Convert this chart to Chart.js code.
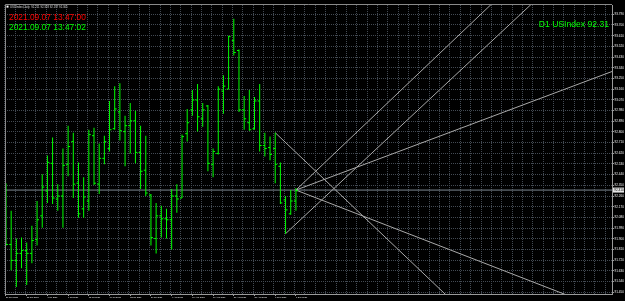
<!DOCTYPE html>
<html><head><meta charset="utf-8">
<script src="https://cdn.jsdelivr.net/npm/chart.js@4/dist/chart.umd.min.js"></script>
<style>html,body{margin:0;padding:0;background:#000;overflow:hidden}canvas{display:block}</style>
</head><body>
<canvas id="c" width="625" height="301"></canvas>
<script>
// ---- data (daily bars, 21 Jun 2021 .. 7 Sep 2021) ----
const barIndex = [0,1,2,3,4,5,6,7,8,9,10,11,12,13,14,15,16,17,18,19,20,21,22,23,24,25,26,27,28,29,30,31,32,33,34,35,36,37,38,39,40,41,42,43,44,45,46,47,48,49,50,51,52,53,54,55,56];
const opens  = [92.218,91.852,91.718,91.777,91.802,91.777,91.893,92.093,92.302,92.535,92.235,92.260,92.527,92.718,92.368,92.152,92.218,92.768,92.360,92.577,92.660,92.827,92.968,92.802,92.852,92.893,92.627,92.477,92.268,91.902,92.093,92.068,92.060,92.260,92.243,92.785,92.985,93.068,92.910,93.018,92.527,92.618,93.143,93.160,93.568,93.485,92.985,92.877,92.827,93.060,92.685,92.668,92.660,92.510,92.227,92.110,92.218];
const highs  = [92.368,92.135,91.902,91.910,91.868,92.010,92.218,92.443,92.602,92.752,92.360,92.660,92.852,92.793,92.543,92.418,92.818,92.835,92.702,92.768,93.060,93.185,93.210,92.935,93.043,92.977,92.852,92.768,92.277,92.202,92.177,92.152,92.318,92.360,92.777,92.993,93.152,93.202,93.043,93.027,92.660,93.185,93.277,93.610,93.752,93.493,93.102,93.152,93.093,93.202,92.793,92.760,92.793,92.543,92.260,92.310,92.327];
const lows   = [91.843,91.635,91.493,91.652,91.510,91.693,91.843,91.993,92.202,92.193,92.135,91.993,92.427,92.243,92.077,92.077,92.135,92.352,92.277,92.527,92.635,92.818,92.727,92.510,92.618,92.535,92.318,92.260,91.843,91.777,91.910,91.902,91.810,92.118,92.243,92.718,92.935,92.802,92.843,92.468,92.418,92.610,92.952,93.160,93.443,92.968,92.818,92.810,92.818,92.635,92.593,92.560,92.368,92.193,91.943,92.102,92.135];
const closes = [91.852,91.718,91.777,91.802,91.777,91.885,92.060,92.335,92.543,92.243,92.260,92.518,92.677,92.360,92.110,92.252,92.777,92.368,92.577,92.718,92.818,92.993,92.810,92.852,92.893,92.627,92.468,92.285,91.910,92.093,92.068,92.060,92.260,92.235,92.760,92.877,93.068,92.927,92.985,92.535,92.635,93.160,93.185,93.602,93.468,92.985,92.910,92.818,93.060,92.685,92.660,92.610,92.527,92.202,92.143,92.218,92.305];

const dateTickBars   = [0,4,8,12,16,20,24,28,32,36,40,44,48,52,56];
const dateTickLabels = ["21 Jun 2021","25 Jun 2021","1 Jul 2021","7 Jul 2021","13 Jul 2021","19 Jul 2021","23 Jul 2021","29 Jul 2021","4 Aug 2021","10 Aug 2021","16 Aug 2021","20 Aug 2021","26 Aug 2021","1 Sep 2021","7 Sep 2021"];
const priceTicks = [93.790,93.700,93.610,93.520,93.430,93.340,93.250,93.160,93.070,92.980,92.890,92.800,92.710,92.620,92.530,92.440,92.350,92.260,92.170,92.080,91.990,91.900,91.810,91.720,91.630,91.540,91.450];
const bidPrice = 92.31;

// trend / fan lines: start bar, start price, end bar, end price
const lineFromBar   = [52, 54, 56, 56, 56];
const lineFromPrice = [92.793, 91.943, 92.310, 92.310, 92.310];
const lineToBar     = [120, 110, 110, 125, 125];
const lineToPrice   = [89.978, 94.222, 94.548, 93.438, 91.144];

const headerText = "USDIndex,Daily  92.211 92.328 92.197 92.305";
const serverTime = "2021.09.07 13:47:00";
const localTime  = "2021.09.07 13:47:02";
const symbolText = "D1 USIndex 92.31";

// ---- view ----
const xMin = -0.19, xMax = 117.05;
const yMin = 91.435, yMax = 93.868;
const LIME = '#00ff00';
const GRID = '#434a53';
const FONT = '"Liberation Sans", Arial, sans-serif';
const tickOff = 0.19;

const gridBars = [];
for (let v = -0.25; v <= xMax; v += 2) gridBars.push(v);
const isLabelTick = v => dateTickBars.includes(v);

const datasets = [];
datasets.push({
  type:'bar', label:'range',
  data: barIndex.map(i => ({x:i, y:[lows[i], highs[i]]})),
  backgroundColor: LIME, borderWidth:0, barThickness:1, inflateAmount:0
});
datasets.push({
  type:'line', label:'open', showLine:false,
  data: barIndex.map(i => ({x:i - tickOff, y:opens[i]})),
  pointStyle:'line', pointRadius:1, pointBorderWidth:1, pointBorderColor:LIME, pointBackgroundColor:LIME
});
datasets.push({
  type:'line', label:'close', showLine:false,
  data: barIndex.map(i => ({x:i + tickOff, y:closes[i]})),
  pointStyle:'line', pointRadius:1, pointBorderWidth:1, pointBorderColor:LIME, pointBackgroundColor:LIME
});
for (let k = 0; k < lineFromBar.length; k++) {
  datasets.push({
    type:'line', label:'fan'+k,
    data:[{x:lineFromBar[k], y:lineFromPrice[k]}, {x:lineToBar[k], y:lineToPrice[k]}],
    borderColor:'#a9a9a9', borderWidth:1, pointRadius:0, tension:0
  });
}
datasets.push({
  type:'line', label:'bid',
  data:[{x:xMin, y:bidPrice}, {x:xMax, y:bidPrice}],
  borderColor:'#7d8791', borderWidth:1, pointRadius:0
});

const overlay = {
  id:'overlay',
  beforeDraw(chart){
    const c = chart.ctx; c.save(); c.fillStyle = '#000'; c.fillRect(0,0,chart.width,chart.height); c.restore();
  },
  afterDraw(chart){
    const c = chart.ctx, a = chart.chartArea, y = chart.scales.y;
    c.save();
    c.strokeStyle = '#8a8a8a'; c.lineWidth = 1;
    c.beginPath(); c.moveTo(a.left+0.5, a.bottom); c.lineTo(a.left+0.5, a.top-0.5); c.lineTo(a.right, a.top-0.5); c.stroke();
    // current price box on the axis
    const py = y.getPixelForValue(bidPrice);
    c.fillStyle = '#e4e4e4'; c.fillRect(a.right+1, py-2.5, 11, 5);
    c.fillStyle = '#000'; c.font = '3.1px ' + FONT; c.textBaseline = 'middle'; c.textAlign = 'left';
    c.fillText(bidPrice.toFixed(3), a.right+2.2, py);
    // header
    c.fillStyle = '#d8d8d8'; c.font = '2.8px ' + FONT; c.textBaseline = 'alphabetic';
    c.fillText(headerText, a.left+5, a.top+2.8);
    c.fillStyle = '#ffffff'; c.fillRect(a.left+1.5, a.top+0.6, 2, 2);
    c.font = '8.4px ' + FONT;
    c.fillStyle = '#ff0000'; c.fillText(serverTime, a.left+4, a.top+14.8);
    c.fillStyle = LIME; c.fillText(localTime, a.left+4, a.top+24.8);
    c.font = '8.6px ' + FONT; c.textAlign = 'right';
    c.fillText(symbolText, a.right-3, a.top+21.5);
    c.restore();
  }
};

new Chart(document.getElementById('c'), {
  type:'line',
  data:{datasets},
  options:{
    responsive:false, animation:false, events:[],
    layout:{padding:{top:2, left:0, right:0, bottom:0}},
    plugins:{legend:{display:false}, tooltip:{enabled:false}},
    scales:{
      x:{
        type:'linear', min:xMin, max:xMax, offset:false,
        afterBuildTicks: s => {
          s.ticks = gridBars.concat(dateTickBars).sort((p,q)=>p-q).map(v => ({value:v}));
        },
        afterFit: s => { s.height = 7; },
        grid:{
          offset:false, lineWidth:1, drawTicks:true, tickLength:2,
          color: ctx => (ctx.tick && isLabelTick(ctx.tick.value)) ? 'rgba(0,0,0,0)' : GRID,
          tickColor: ctx => (ctx.tick && isLabelTick(ctx.tick.value)) ? '#9a9a9a' : 'rgba(0,0,0,0)'
        },
        border:{display:true, color:'#9a9a9a', dash:[1,1]},
        ticks:{
          autoSkip:false, maxRotation:0, minRotation:0, align:'start', padding:0,
          color:'#f0f0f0', font:{size:2.2, family:FONT},
          callback: v => { const k = dateTickBars.indexOf(v); return k >= 0 ? dateTickLabels[k] : ''; }
        }
      },
      y:{
        type:'linear', position:'right', min:yMin, max:yMax, beginAtZero:false,
        afterBuildTicks: s => { s.ticks = priceTicks.map(v => ({value:v})); },
        afterFit: s => { s.width = 13; },
        grid:{color:GRID, lineWidth:1, drawTicks:true, tickLength:2, tickColor:'#9a9a9a'},
        border:{display:true, color:'#9a9a9a', dash:[1,1]},
        ticks:{autoSkip:false, padding:0.5, color:'#f0f0f0', font:{size:3.1, family:FONT},
          callback: v => Number(v).toFixed(3)}
      }
    }
  },
  plugins:[overlay]
});
</script>
</body></html>
